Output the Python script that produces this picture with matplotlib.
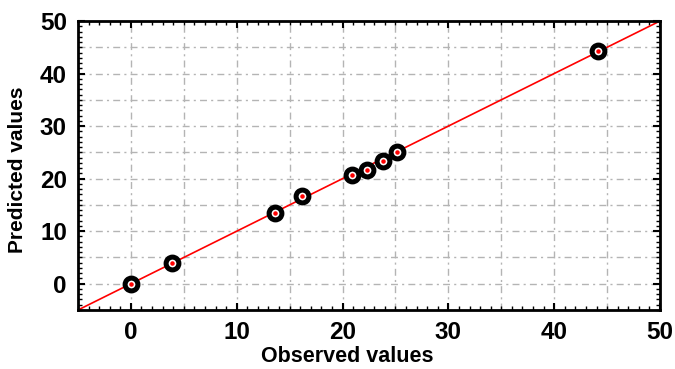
import matplotlib
matplotlib.use("Agg")
import matplotlib.pyplot as plt
from matplotlib.ticker import MultipleLocator

observed = [0, 3.9, 13.6, 16.2, 20.9, 22.3, 23.8, 25.1, 44.1]
predicted = [0, 4.0, 13.5, 16.7, 20.7, 21.7, 23.4, 25.1, 44.3]
line_x = [-5, 50]
line_y = [-5, 50]

plt.rcParams['font.family'] = ['Liberation Sans', 'DejaVu Sans']

fig = plt.figure(figsize=(6.75, 3.69), dpi=100)
ax = fig.add_axes([78/675, 1-310/369, (660-78)/675, (310-21)/369])

ax.plot(line_x, line_y, color='red', lw=1.2, zorder=2)
ax.scatter(observed, predicted, s=85, facecolor='white', edgecolor='black', linewidth=3.6, zorder=3)
ax.scatter(observed, predicted, s=5, color='red', zorder=4)

ax.set_xlim(-5, 50)
ax.set_ylim(-5, 50)
ax.xaxis.set_major_locator(MultipleLocator(10))
ax.yaxis.set_major_locator(MultipleLocator(10))
ax.xaxis.set_minor_locator(MultipleLocator(1))
ax.yaxis.set_minor_locator(MultipleLocator(1))

for v in range(-5, 51, 5):
    ax.axvline(v, color='#b4b4b4', lw=1, ls=(0, (5, 3, 1.5, 3)), zorder=1)
    ax.axhline(v, color='#b4b4b4', lw=1, ls=(0, (5, 3, 1.5, 3)), zorder=1)

ax.tick_params(which='both', direction='in', top=True, right=True, color='black')
ax.tick_params(which='major', length=5, width=1.5, labelsize=17.5, pad=8)
ax.tick_params(which='minor', length=3, width=1)
for lab in ax.get_xticklabels() + ax.get_yticklabels():
    lab.set_fontweight('bold')
for sp in ax.spines.values():
    sp.set_linewidth(2)

fig.text(347/675, 1-356/369, 'Observed values', fontsize=15.5, fontweight='bold',
         ha='center', va='center')
fig.text(18/675, 1-170/369, 'Predicted values', fontsize=15, fontweight='bold',
         ha='center', va='center', rotation=90)

fig.savefig('out.png', dpi=100)
